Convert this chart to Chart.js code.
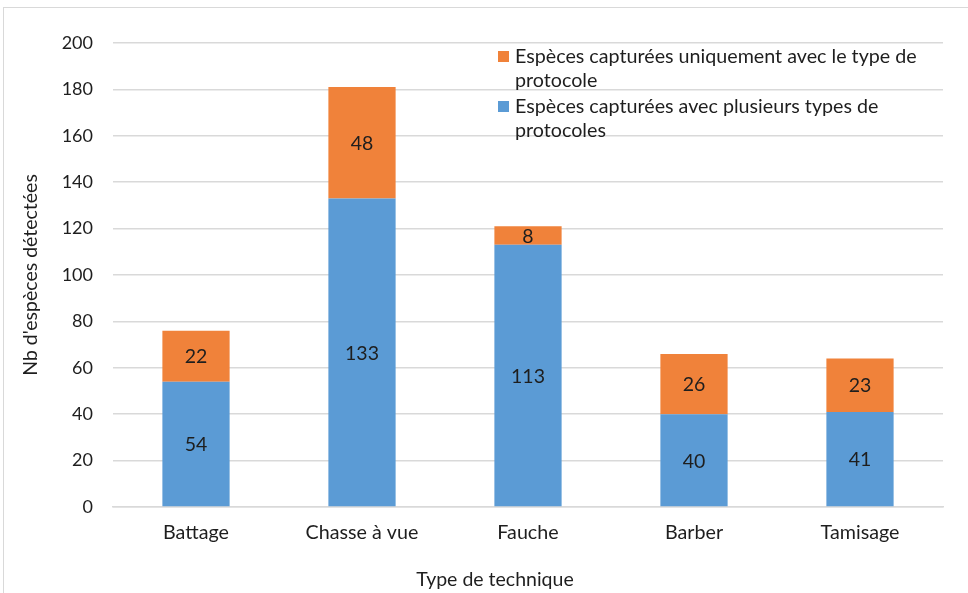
<!DOCTYPE html>
<html>
<head>
<meta charset="utf-8">
<script src="https://cdn.jsdelivr.net/npm/chart.js@4.4.1/dist/chart.umd.min.js"></script>
<style>
  html, body { margin: 0; padding: 0; background: #ffffff; }
  #wrap { width: 968px; height: 593px; position: relative; }
</style>
</head>
<body>
<div id="wrap"><canvas id="c" width="968" height="593"></canvas></div>
<script>
const categories = ['Battage', 'Chasse à vue', 'Fauche', 'Barber', 'Tamisage'];
const multiProtocol = [54, 133, 113, 40, 41];
const uniqueProtocol = [22, 48, 8, 26, 23];
const yTicks = [0, 20, 40, 60, 80, 100, 120, 140, 160, 180, 200];
const seriesLabels = [
  'Espèces capturées avec plusieurs types de protocoles',
  'Espèces capturées uniquement avec le type de protocole'
];
const yTitle = "Nb d'espèces détectées";
const xTitle = 'Type de technique';

const FONT = 'Lato, "Open Sans", sans-serif';
const BLUE = '#5B9BD5';
const ORANGE = '#F0823A';
const TEXT = '#1e1e1e';

function wrapText(ctx, text, maxW) {
  const words = text.split(' ');
  const lines = [];
  let cur = '';
  for (const w of words) {
    const t = cur ? cur + ' ' + w : w;
    if (ctx.measureText(t).width > maxW && cur) { lines.push(cur); cur = w; }
    else cur = t;
  }
  if (cur) lines.push(cur);
  return lines;
}

const decor = {
  id: 'decor',
  beforeDraw(chart) {
    const ctx = chart.ctx;
    ctx.save();
    ctx.fillStyle = '#ffffff';
    ctx.fillRect(0, 0, chart.width, chart.height);
    ctx.strokeStyle = '#d9d9d9';
    ctx.lineWidth = 1;
    ctx.strokeRect(3.5, 7.5, chart.width + 10, chart.height + 10);
    ctx.restore();
  },
  afterDatasetsDraw(chart) {
    const ctx = chart.ctx;
    ctx.save();
    ctx.font = '19.5px ' + FONT;
    ctx.fillStyle = TEXT;
    ctx.textAlign = 'center';
    ctx.textBaseline = 'middle';
    chart.data.datasets.forEach((ds, di) => {
      const meta = chart.getDatasetMeta(di);
      meta.data.forEach((bar, i) => {
        const y = (bar.y + bar.base) / 2;
        ctx.fillText(String(ds.data[i]), bar.x, y + 1);
      });
    });
    ctx.restore();
  },
  afterDraw(chart) {
    const ctx = chart.ctx;
    const area = chart.chartArea;
    ctx.save();
    // axis titles
    ctx.fillStyle = TEXT;
    ctx.font = '19.5px ' + FONT;
    ctx.textAlign = 'center';
    ctx.textBaseline = 'middle';
    ctx.translate(31, (area.top + area.bottom) / 2);
    ctx.rotate(-Math.PI / 2);
    ctx.fillText(yTitle, 0, 0);
    ctx.setTransform(1, 0, 0, 1, 0, 0);
    ctx.fillText(xTitle, (area.left + area.right) / 2 - 33, 580);
    // legend (reverse order: orange first)
    ctx.font = '19.7px ' + FONT;
    ctx.textAlign = 'left';
    ctx.textBaseline = 'middle';
    let y = 57;
    const order = [1, 0];
    order.forEach(di => {
      const ds = chart.data.datasets[di];
      ctx.fillStyle = ds.backgroundColor;
      ctx.fillRect(498, y - 6, 11, 11);
      ctx.fillStyle = TEXT;
      const lines = wrapText(ctx, ds.label, 412);
      lines.forEach((ln, k) => {
        ctx.fillText(ln, 515, y + k * 23.5);
      });
      y += lines.length * 23.5 + 3;
    });
    ctx.restore();
  }
};

new Chart(document.getElementById('c'), {
  type: 'bar',
  data: {
    labels: categories,
    datasets: [
      { label: seriesLabels[0], data: multiProtocol, backgroundColor: BLUE,
        barPercentage: 0.405, categoryPercentage: 1.0 },
      { label: seriesLabels[1], data: uniqueProtocol, backgroundColor: ORANGE,
        barPercentage: 0.405, categoryPercentage: 1.0 }
    ]
  },
  options: {
    responsive: false,
    animation: false,
    devicePixelRatio: 1,
    layout: { padding: { top: 43, right: 25, left: 0, bottom: 0 } },
    plugins: {
      legend: { display: false },
      tooltip: { enabled: false }
    },
    scales: {
      x: {
        stacked: true,
        grid: { display: false, drawTicks: false },
        border: { display: true, color: '#d9d9d9', width: 1.5 },
        ticks: { color: TEXT, font: { family: FONT, size: 19.7 }, padding: 14 },
        afterFit(s) { s.height = 86; }
      },
      y: {
        stacked: true,
        min: 0, max: 200,
        afterBuildTicks(s) { s.ticks = yTicks.map(v => ({ value: v })); },
        grid: { color: '#d9d9d9', lineWidth: 1.5, drawTicks: false },
        border: { display: false },
        ticks: { color: TEXT, font: { family: FONT, size: 18 }, padding: 20 },
        afterFit(s) { s.width = 113; }
      }
    }
  },
  plugins: [decor]
});
</script>
</body>
</html>
